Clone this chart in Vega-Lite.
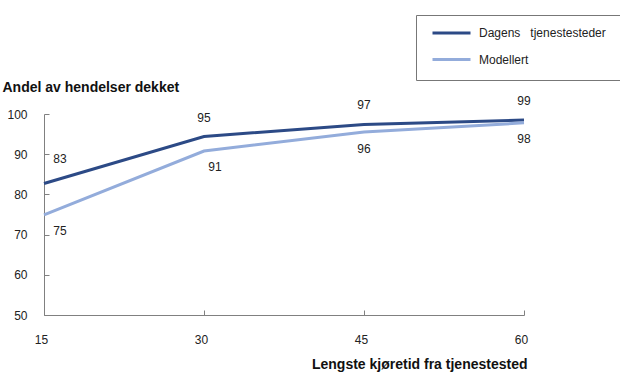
{
  "$schema": "https://vega.github.io/schema/vega-lite/v6.json",
  "width": 480,
  "height": 201,
  "autosize": "none",
  "padding": {"left": 44, "top": 114, "right": 96, "bottom": 75},
  "background": "white",
  "config": {
    "view": {"stroke": null},
    "font": "Liberation Sans",
    "axis": {"grid": false, "domainColor": "#808080", "tickColor": "#808080", "labelColor": "#222", "labelFont": "Liberation Sans", "labelFontSize": 12, "titleFont": "Liberation Sans", "titleColor": "#111"}
  },
  "data": {
    "values": [
      {"t": 15, "serie": "Dagens \u00a0\u00a0tjenestesteder", "v": 82.7, "lab": "83"},
      {"t": 30, "serie": "Dagens \u00a0\u00a0tjenestesteder", "v": 94.4, "lab": "95"},
      {"t": 45, "serie": "Dagens \u00a0\u00a0tjenestesteder", "v": 97.4, "lab": "97"},
      {"t": 60, "serie": "Dagens \u00a0\u00a0tjenestesteder", "v": 98.5, "lab": "99"},
      {"t": 15, "serie": "Modellert", "v": 74.9, "lab": "75"},
      {"t": 30, "serie": "Modellert", "v": 90.8, "lab": "91"},
      {"t": 45, "serie": "Modellert", "v": 95.5, "lab": "96"},
      {"t": 60, "serie": "Modellert", "v": 97.8, "lab": "98"}
    ]
  },
  "encoding": {
    "x": {"field": "t", "type": "quantitative", "scale": {"domain": [15, 60], "nice": false, "zero": false},
      "axis": {"values": [15, 30, 45, 60], "tickSize": -5, "labelPadding": 24, "labelOffset": -3, "labelFlush": false,
        "title": "Lengste kjøretid fra tjenestested", "titleFontSize": 14, "titleFontWeight": "bold",
        "titleAlign": "right", "titleBaseline": "middle", "titleX": 483, "titleY": 49, "titleAngle": 0}},
    "y": {"field": "v", "type": "quantitative", "scale": {"domain": [50, 100], "nice": false, "zero": false},
      "axis": {"values": [50, 60, 70, 80, 90, 100], "tickSize": -5, "labelPadding": 22,
        "title": "Andel av hendelser dekket", "titleFontSize": 14, "titleFontWeight": "bold",
        "titleAngle": 0, "titleAlign": "left", "titleBaseline": "middle", "titleX": -42, "titleY": -27}}
  },
  "layer": [
    {
      "mark": {"type": "line", "strokeWidth": 3},
      "encoding": {
        "color": {"field": "serie", "type": "nominal",
          "scale": {"domain": ["Dagens \u00a0\u00a0tjenestesteder", "Modellert"], "range": ["#2c4a86", "#93acdb"]},
          "legend": {"title": null, "orient": "none", "legendX": 372, "legendY": -99, "direction": "vertical",
            "symbolType": "stroke", "symbolSize": 1444, "symbolStrokeWidth": 3, "clipHeight": 8, "rowPadding": 14.5,
            "padding": 14, "symbolOffset": 1, "labelOffset": 7, "labelFontSize": 12, "labelFont": "Liberation Sans", "labelColor": "#222",
            "strokeColor": "#777", "fillColor": "white"}}
      }
    },
    {
      "transform": [{"filter": "datum.serie != 'Modellert' && datum.t > 15"}],
      "mark": {"type": "text", "fontSize": 12, "color": "#222", "dy": -19, "baseline": "middle"},
      "encoding": {"text": {"field": "lab"}}
    },
    {
      "transform": [{"filter": "datum.serie != 'Modellert' && datum.t == 15"}],
      "mark": {"type": "text", "fontSize": 12, "color": "#222", "dx": 16, "dy": -25, "baseline": "middle"},
      "encoding": {"text": {"field": "lab"}}
    },
    {
      "transform": [{"filter": "datum.serie == 'Modellert' && datum.t == 15"}],
      "mark": {"type": "text", "fontSize": 12, "color": "#222", "dx": 16, "dy": 16.5, "baseline": "middle"},
      "encoding": {"text": {"field": "lab"}}
    },
    {
      "transform": [{"filter": "datum.serie == 'Modellert' && datum.t == 30"}],
      "mark": {"type": "text", "fontSize": 12, "color": "#222", "dx": 11, "dy": 16.5, "baseline": "middle"},
      "encoding": {"text": {"field": "lab"}}
    },
    {
      "transform": [{"filter": "datum.serie == 'Modellert' && datum.t > 30"}],
      "mark": {"type": "text", "fontSize": 12, "color": "#222", "dy": 16.5, "baseline": "middle"},
      "encoding": {"text": {"field": "lab"}}
    }
  ]
}
